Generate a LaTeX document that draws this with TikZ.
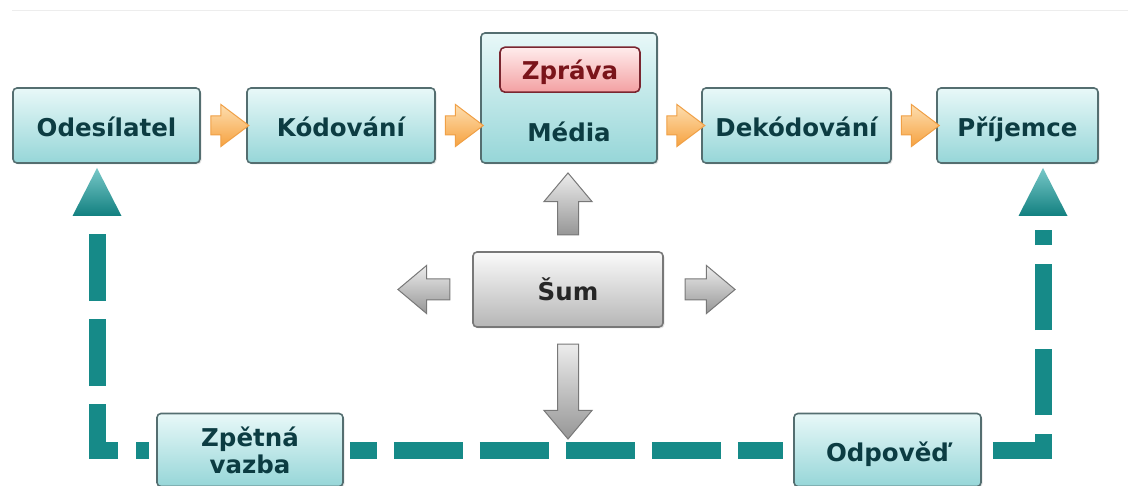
\documentclass[tikz,border=0pt]{standalone}
\usepackage{fontspec}
\setmainfont{DejaVu Sans}
\usetikzlibrary{shapes.arrows,shadows,calc}
\pgfdeclarelayer{bg}
\pgfsetlayers{bg,main}
\definecolor{tealTop}{RGB}{232,248,248}
\definecolor{tealBot}{RGB}{150,214,216}
\definecolor{boxBorder}{RGB}{84,110,112}
\definecolor{tealText}{RGB}{12,60,66}
\definecolor{dashTeal}{RGB}{22,138,136}
\definecolor{triTop}{RGB}{120,200,200}
\definecolor{triBot}{RGB}{18,128,128}
\definecolor{orTop}{RGB}{253,222,176}
\definecolor{orBot}{RGB}{246,162,64}
\definecolor{orBorder}{RGB}{240,160,70}
\definecolor{gyTop}{RGB}{236,236,236}
\definecolor{gyBot}{RGB}{150,150,150}
\definecolor{gyBorder}{RGB}{120,120,120}
\definecolor{sumTop}{RGB}{250,250,250}
\definecolor{sumBot}{RGB}{182,182,182}
\definecolor{pkTop}{RGB}{255,236,236}
\definecolor{pkBot}{RGB}{243,160,162}
\definecolor{pkBorder}{RGB}{122,38,48}
\definecolor{pkText}{RGB}{122,20,26}
\begin{document}
\begin{tikzpicture}[x=1pt,y=-1pt,
  boxfont/.style={font=\bfseries\fontsize{24.5}{27}\selectfont},
  tealbox/.style={rectangle, rounded corners=4pt, draw=boxBorder, line width=1.6pt,
    top color=tealTop, bottom color=tealBot, text=tealText, boxfont, inner sep=0pt,
    minimum height=75pt, align=center,
    drop shadow={shadow xshift=1.5pt, shadow yshift=-1.5pt, opacity=0.2}},
  oneline/.style={text height=23pt, text depth=0pt},
  sumbox/.style={tealbox, draw=gyBorder, top color=sumTop, bottom color=sumBot, text=black!85},
  zbox/.style={rectangle, rounded corners=5pt, draw=pkBorder, line width=1.6pt,
    top color=pkTop, bottom color=pkBot, text=pkText, boxfont, inner sep=0pt,
    minimum width=140pt, minimum height=45pt, text height=19pt, text depth=0pt},
  txt/.style={text=tealText, boxfont, inner sep=0pt},
  oarrow/.style={single arrow, draw=orBorder, line width=1pt, top color=orTop, bottom color=orBot,
    inner xsep=0pt, inner ysep=9pt, single arrow head extend=11.5pt, single arrow tip angle=74,
    minimum height=38pt, minimum width=0pt},
  garrow/.style={single arrow, draw=gyBorder, line width=1pt, top color=gyTop, bottom color=gyBot,
    inner xsep=0pt, inner ysep=10pt, single arrow head extend=13.5pt, single arrow tip angle=80,
    minimum width=0pt},
  fb/.style={draw=dashTeal, line width=17pt},
  tri/.style={top color=triTop, bottom color=triBot, draw=none}
]
\useasboundingbox (0,0) rectangle (1128,486);
\begin{pgfonlayer}{bg}
\fill[white] (0,0) rectangle (1128,486);
\draw[black!7, line width=1pt] (12,11) -- (1128,11);
\end{pgfonlayer}

% top row
\node[tealbox, oneline, minimum width=187pt] (odes) at (106.5,125.5) {Odesílatel};
\node[tealbox, oneline, minimum width=188pt] (kod) at (341,125.5) {Kódování};
\node[tealbox, minimum width=176pt, minimum height=130pt] (media) at (569,98) {};
\node[zbox] (zprava) at ($(media.north)+(1,37.5)$) {Zpráva};
\node[txt, anchor=base] (medialbl) at ($(media.south)+(0,-22)$) {Média};
\node[tealbox, oneline, minimum width=189pt] (dek) at (796.5,125.5) {Dekódování};
\node[tealbox, oneline, minimum width=161pt] (prij) at (1017.5,125.5) {Příjemce};

% orange arrows
\node[oarrow] (a1) at ($(odes.east)!0.5!(kod.west)$) {};
\node[oarrow] (a2) at ($(kod.east)!0.5!(media.west|-kod.east)$) {};
\node[oarrow] (a3) at ($(dek.west)!0.5!(media.east|-dek.west)$) {};
\node[oarrow] (a4) at ($(dek.east)!0.5!(prij.west)$) {};

% noise
\node[sumbox, oneline, minimum width=190pt] (sum) at (568,289.5) {Šum};
\node[garrow, minimum height=62pt, rotate=90] (gup) at ($(sum.north)+(0,-41)$) {};
\node[garrow, minimum height=95pt, rotate=-90] (gdown) at ($(sum.south)+(0,57.5)$) {};
\node[garrow, minimum height=52pt, rotate=180] (gleft) at ($(sum.west)+(-42,0)$) {};
\node[garrow, minimum height=50pt] (gright) at ($(sum.east)+(40,0)$) {};

% bottom row
\node[tealbox, minimum width=186pt, minimum height=73pt] (zpet) at (250,450) {Zpětná\\vazba};
\node[tealbox, oneline, minimum width=187pt, minimum height=73pt] (odpo) at (887.5,450) {Odpověď};

% feedback loop
\coordinate (ltip) at (97,216);
\coordinate (rtip) at (1043,216);
\begin{pgfonlayer}{bg}
\draw[fb, dash pattern=on 67pt off 18pt, dash phase=54pt]
  ([xshift=-7pt]zpet.west) -| ([yshift=-4pt]ltip);
\draw[fb, dash pattern=on 69pt off 17pt, dash phase=42pt]
  ([xshift=6pt]zpet.east) -- ([xshift=-10pt]odpo.west);
\draw[fb, dash pattern=on 66pt off 19pt]
  ([xshift=11pt]odpo.east) -| ([yshift=-14pt]rtip);
\end{pgfonlayer}
\shade[tri] ($(ltip)+(-24.5,0)$) -- ($(ltip)+(0,-48)$) -- ($(ltip)+(24.5,0)$) -- cycle;
\shade[tri] ($(rtip)+(-24.5,0)$) -- ($(rtip)+(0,-48)$) -- ($(rtip)+(24.5,0)$) -- cycle;
\end{tikzpicture}
\end{document}
